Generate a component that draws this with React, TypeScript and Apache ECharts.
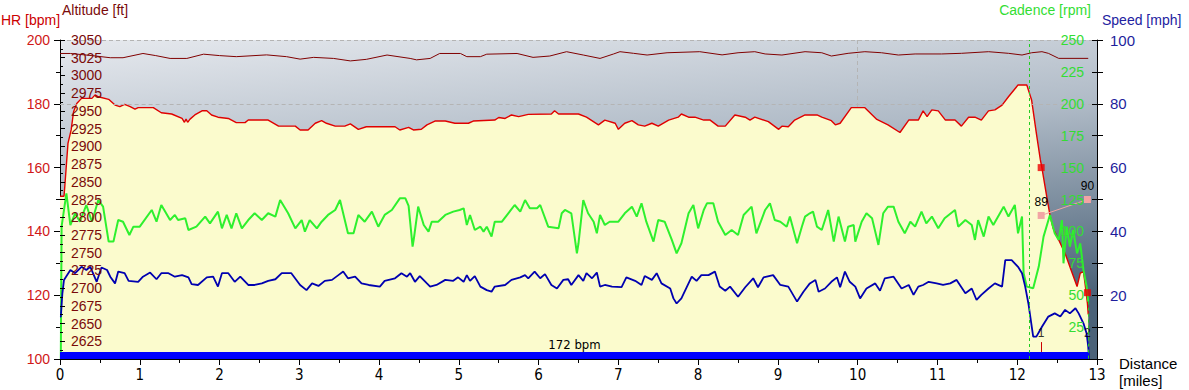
import React, { useEffect, useRef } from "react";
import * as echarts from "echarts";

// ---- Heart rate (bpm) vs distance (miles)
const hrDist = [0.0, 0.05, 0.06, 0.1, 0.14, 0.17, 0.21, 0.27, 0.4, 0.44, 0.48, 0.61, 0.69, 0.75, 0.81, 0.88, 0.94, 0.98, 1.17, 1.27, 1.4, 1.53, 1.56, 1.58, 1.6, 1.63, 1.69, 1.78, 1.84, 1.9, 1.98, 2.11, 2.21, 2.32, 2.36, 2.61, 2.74, 2.95, 3.01, 3.11, 3.2, 3.28, 3.34, 3.45, 3.57, 3.64, 3.74, 3.84, 4.2, 4.26, 4.37, 4.43, 4.53, 4.6, 4.7, 4.83, 4.95, 5.12, 5.18, 5.45, 5.5, 5.58, 5.66, 5.75, 5.87, 6.16, 6.2, 6.25, 6.5, 6.6, 6.75, 6.83, 6.96, 7.0, 7.08, 7.17, 7.25, 7.33, 7.42, 7.5, 7.63, 7.75, 7.79, 7.88, 7.96, 8.07, 8.15, 8.25, 8.34, 8.46, 8.59, 8.65, 8.71, 8.88, 9.01, 9.05, 9.13, 9.21, 9.34, 9.49, 9.55, 9.67, 9.72, 9.78, 9.92, 10.09, 10.24, 10.38, 10.53, 10.64, 10.76, 10.82, 10.87, 10.93, 11.01, 11.1, 11.22, 11.3, 11.39, 11.47, 11.55, 11.64, 11.72, 11.81, 11.89, 12.01, 12.12, 12.18, 12.24, 12.29, 12.31, 12.37, 12.41, 12.45, 12.52, 12.6, 12.66, 12.75, 12.79, 12.83, 12.85, 12.88, 12.89];
const hrVal = [151, 151, 154, 167.6, 171.8, 177.5, 180.1, 181.7, 181.7, 182.8, 182.2, 181.4, 179.6, 179.1, 179.8, 179.1, 178.3, 178.8, 178.8, 177.2, 176.8, 175.4, 174.2, 175.2, 174.2, 175.2, 176.5, 177.8, 177.8, 176.5, 175.8, 175.4, 174.1, 174.1, 174.9, 174.9, 173, 173, 171.8, 171.8, 173.9, 174.7, 173.9, 173, 173, 173.7, 172, 172.8, 172.8, 171.8, 172.6, 171.8, 172, 173.4, 174.6, 174.6, 173.9, 173.9, 174.6, 174.9, 175.7, 175.4, 176.5, 176, 176.7, 176.8, 177.8, 176.8, 176.8, 175.8, 173.4, 174.9, 173.9, 172, 173.9, 174.7, 173.4, 173, 173.9, 173, 174.9, 175.8, 176.8, 175.8, 175.8, 174.9, 174.9, 173, 173, 176.5, 175.8, 174.9, 175.8, 174.4, 172, 173, 172.8, 174.9, 176.5, 176.5, 175.8, 174.7, 173.4, 173.9, 178.8, 178.8, 175.1, 173.4, 171, 174.9, 174.9, 177.8, 176, 178.1, 177.8, 174.9, 174.9, 173, 175.8, 175.8, 174.9, 177.8, 178.1, 179.6, 182.2, 185.9, 185.9, 181.2, 170.7, 162.4, 159.8, 150.9, 145.1, 141, 137.3, 133.1, 128.9, 122.7, 126.9, 127.4, 123.7, 117.4, 114];

// ---- Altitude (ft)
const altDist = [0, 0.13, 0.4, 0.63, 0.79, 1.04, 1.2, 1.38, 1.59, 1.8, 2.0, 2.21, 2.59, 2.84, 3.01, 3.18, 3.43, 3.64, 3.84, 4.1, 4.39, 4.47, 4.64, 4.76, 5.02, 5.1, 5.27, 5.35, 5.73, 5.93, 6.14, 6.35, 6.56, 6.77, 6.94, 7.02, 7.19, 7.36, 7.61, 8.02, 8.3, 8.5, 8.71, 8.84, 9.05, 9.34, 9.55, 9.67, 9.88, 10.09, 10.3, 10.51, 10.72, 11.05, 11.3, 11.64, 11.89, 12.06, 12.18, 12.31, 12.39, 12.52, 12.89];
const altVal = [3031, 3031, 3028, 3025, 3025, 3031, 3028, 3024, 3024, 3030, 3028, 3026.5, 3029, 3026.5, 3023, 3025.5, 3024, 3020.5, 3022.7, 3028.8, 3024, 3022, 3024, 3031, 3031, 3026.5, 3026.5, 3030, 3031, 3025.5, 3027.4, 3033.5, 3028.8, 3024, 3030.3, 3033.5, 3031.2, 3028.8, 3032, 3033.5, 3029, 3032, 3033.5, 3030.3, 3028.8, 3033.5, 3032, 3027.4, 3031.2, 3033.5, 3032, 3028.8, 3030.3, 3030.3, 3031.2, 3033.5, 3031.2, 3028.8, 3032, 3033.5, 3031.2, 3024.1, 3024.1];

// ---- Cadence (rpm)
const cadDist = [0.0, 0.01, 0.02, 0.08, 0.13, 0.19, 0.25, 0.33, 0.4, 0.48, 0.54, 0.61, 0.67, 0.73, 0.79, 0.87, 0.92, 1.0, 1.15, 1.21, 1.27, 1.38, 1.44, 1.48, 1.57, 1.61, 1.71, 1.82, 1.88, 1.98, 2.03, 2.09, 2.15, 2.21, 2.28, 2.36, 2.44, 2.53, 2.61, 2.7, 2.76, 2.86, 2.95, 3.03, 3.07, 3.13, 3.22, 3.28, 3.36, 3.45, 3.51, 3.61, 3.68, 3.74, 3.82, 3.91, 3.99, 4.07, 4.16, 4.26, 4.33, 4.37, 4.42, 4.44, 4.49, 4.56, 4.62, 4.66, 4.74, 4.83, 4.93, 5.01, 5.06, 5.1, 5.14, 5.2, 5.27, 5.31, 5.35, 5.41, 5.45, 5.54, 5.62, 5.7, 5.77, 5.83, 5.89, 5.98, 6.02, 6.12, 6.25, 6.29, 6.33, 6.41, 6.48, 6.5, 6.56, 6.62, 6.69, 6.73, 6.77, 6.83, 6.89, 7.0, 7.08, 7.17, 7.23, 7.29, 7.35, 7.44, 7.5, 7.58, 7.67, 7.73, 7.79, 7.88, 7.94, 8.0, 8.07, 8.11, 8.15, 8.19, 8.25, 8.34, 8.42, 8.5, 8.57, 8.67, 8.73, 8.84, 8.9, 8.96, 9.03, 9.11, 9.15, 9.24, 9.3, 9.34, 9.4, 9.44, 9.49, 9.55, 9.63, 9.7, 9.76, 9.84, 9.88, 9.95, 9.97, 10.05, 10.11, 10.18, 10.26, 10.32, 10.38, 10.45, 10.51, 10.59, 10.66, 10.72, 10.8, 10.86, 10.93, 11.01, 11.09, 11.22, 11.26, 11.35, 11.43, 11.47, 11.51, 11.58, 11.64, 11.7, 11.83, 11.89, 11.97, 12.01, 12.06, 12.08, 12.12, 12.2, 12.27, 12.33, 12.41, 12.47, 12.52, 12.56, 12.58, 12.62, 12.66, 12.7, 12.75, 12.79, 12.83, 12.87, 12.89];
const cadVal = [0, 0, 103.7, 129.8, 105, 114.2, 107.6, 120.7, 107.6, 124.6, 119.4, 92, 92, 108.9, 107.6, 97.2, 103.7, 103.7, 116.8, 107.6, 120.7, 108.9, 112.9, 108.9, 110.3, 101.1, 103.7, 111.6, 106.3, 115.5, 102.4, 112.9, 102.4, 114.2, 102.4, 108.9, 114.2, 108.9, 114.2, 111.6, 124.6, 114.2, 102.4, 108.9, 99.8, 108.9, 102.4, 107.6, 112.9, 116.8, 124.6, 98.5, 98.5, 112.9, 107.6, 115.5, 103.7, 112.9, 116.8, 125.9, 125.9, 120, 88, 96, 119.4, 105, 99.8, 107.6, 107.6, 112.9, 115.5, 116.8, 118.1, 105, 112.9, 101.1, 103.7, 99.8, 103.7, 95.9, 107.6, 107.6, 114.2, 120.7, 115.5, 124.6, 118.1, 118.1, 120.7, 103.7, 102.4, 114.2, 116.8, 114.2, 82.8, 90.7, 124.6, 114.2, 107.6, 98.5, 112.9, 105, 107.6, 107.6, 114.2, 119.4, 111.6, 122, 107.6, 92, 108.9, 107.6, 93.3, 82.8, 90.7, 114.2, 120.7, 102.4, 116.8, 122, 122, 122, 107.6, 97.2, 101.1, 97.2, 112.9, 119.4, 98.5, 116.8, 122, 108.9, 107.6, 103.7, 111.6, 90.7, 103.7, 111.6, 114.2, 115.5, 103.7, 101.1, 116.8, 92, 111.6, 92, 103.7, 105, 92, 107.6, 114.2, 110.3, 89.4, 114.2, 119.4, 119.4, 107.6, 98.5, 107.6, 103.7, 115.5, 106.3, 111.6, 102.4, 110.3, 116.8, 103.7, 108.9, 105, 93.3, 108.9, 95.9, 111.6, 105, 119.4, 111.6, 120.7, 98.5, 111.6, 67.2, 56.7, 55.4, 72.4, 95.9, 112.9, 98.5, 93.3, 108.9, 75, 103.7, 88, 101.1, 82.8, 90.7, 69.8, 56.7, 45];

// ---- Speed (mph)
const spdDist = [0.0, 0.01, 0.03, 0.05, 0.13, 0.19, 0.27, 0.33, 0.38, 0.46, 0.52, 0.59, 0.63, 0.69, 0.73, 0.81, 0.86, 0.98, 1.04, 1.13, 1.21, 1.27, 1.36, 1.44, 1.53, 1.61, 1.65, 1.73, 1.84, 1.92, 1.98, 2.03, 2.11, 2.19, 2.26, 2.36, 2.44, 2.53, 2.61, 2.7, 2.78, 2.9, 3.01, 3.09, 3.16, 3.24, 3.32, 3.41, 3.49, 3.55, 3.61, 3.7, 3.78, 3.87, 4.01, 4.07, 4.2, 4.28, 4.35, 4.39, 4.45, 4.51, 4.6, 4.64, 4.72, 4.83, 4.93, 4.99, 5.06, 5.1, 5.14, 5.2, 5.27, 5.35, 5.41, 5.45, 5.58, 5.66, 5.77, 5.83, 5.87, 5.95, 6.02, 6.08, 6.16, 6.23, 6.31, 6.37, 6.41, 6.5, 6.56, 6.6, 6.67, 6.73, 6.77, 6.83, 6.92, 7.04, 7.1, 7.21, 7.29, 7.33, 7.42, 7.48, 7.54, 7.65, 7.69, 7.73, 7.79, 7.86, 7.92, 7.98, 8.04, 8.13, 8.21, 8.27, 8.34, 8.4, 8.5, 8.59, 8.69, 8.75, 8.82, 8.94, 9.03, 9.13, 9.24, 9.32, 9.4, 9.47, 9.51, 9.59, 9.67, 9.74, 9.78, 9.84, 9.9, 9.97, 10.03, 10.11, 10.22, 10.28, 10.34, 10.45, 10.55, 10.64, 10.7, 10.76, 10.82, 10.89, 10.99, 11.07, 11.16, 11.24, 11.35, 11.43, 11.49, 11.55, 11.64, 11.72, 11.81, 11.85, 11.93, 12.01, 12.06, 12.1, 12.14, 12.2, 12.24, 12.31, 12.39, 12.47, 12.54, 12.6, 12.66, 12.73, 12.77, 12.83, 12.87, 12.89, 12.9];
const spdVal = [13.3, 13.3, 20.6, 24.8, 27.9, 26.9, 28.9, 27.9, 28.9, 24.2, 28.7, 27.9, 25.8, 23.7, 27.4, 26.9, 24.5, 24.2, 25.8, 27.1, 25, 26.9, 26.9, 25.8, 26.3, 25.6, 23.5, 23.2, 25.6, 25.8, 22.7, 26.9, 26.9, 24.2, 25.8, 23.2, 23.2, 23.7, 24.5, 25, 26.9, 26.9, 23.2, 21.6, 23.7, 22.9, 24.5, 24.8, 26.3, 27.4, 25.3, 25.8, 23.7, 23.2, 22.7, 24.5, 25.3, 26.9, 25.8, 26.9, 24.2, 26, 23.7, 22.7, 23.2, 24.8, 24.5, 25.6, 24.2, 26.3, 24.5, 26, 22.7, 21.6, 21.1, 22.7, 23.2, 24.8, 25.6, 26.3, 25.3, 27.4, 25.3, 26.6, 23.2, 22.1, 24.8, 25, 23.2, 26.3, 24.5, 26.9, 25.3, 27.1, 22.7, 23.2, 22.7, 22.5, 25.6, 24.5, 23.2, 26, 24.8, 26.9, 23.7, 22.1, 19, 17.4, 19, 22.7, 25.8, 24.5, 26.3, 26.3, 27.4, 22.7, 21.4, 22.7, 19.5, 22.5, 25.3, 22.5, 25.6, 26.3, 23.2, 22.7, 18, 21.1, 23.7, 24.8, 21.1, 22.1, 24.2, 25.6, 22.5, 27.4, 24.2, 22.7, 19, 22.1, 23.7, 21.4, 25.3, 25.8, 22.1, 23.2, 20.1, 22.7, 23.2, 24.2, 23.7, 23.2, 23.7, 24.8, 20.6, 22.1, 18.5, 20.1, 22.1, 23.7, 22.7, 31, 31, 28.9, 26.9, 22.7, 17.4, 7, 7, 10.1, 13.3, 14.3, 13.3, 15.4, 14.3, 15.9, 14.3, 11.2, 8, 3.9, 0];

// ---- Annotations
const lapDist = [12.3, 12.88];
const lapNames = ["1", "2"];
const lapHr = [160, 120.8];
const markerDist = [12.3, 12.88];
const markerHr = [145, 150];
const markerLabels = ["89", "90"];
const avgHrLabel = "172 bpm";
const zoneEnd = 12.9;
const cadenceMarkDist = 12.15;

const xTicks = { min: 0, max: 13, interval: 1 };
// dashed grid lines (only visible above the HR fill)
const gridHr = [200, 180];
const gridDist = [10];

const pairs = (xs: number[], ys: number[]) => xs.map((x, i) => [x, ys[i]]);

// HR interpolated at a distance
const hrAt = (d: number) => {
  for (let i = 1; i < hrDist.length; i++) {
    if (d <= hrDist[i]) {
      const t = (d - hrDist[i - 1]) / (hrDist[i] - hrDist[i - 1]);
      return hrVal[i - 1] + t * (hrVal[i] - hrVal[i - 1]);
    }
  }
  return 100;
};
// distance ranges where the HR curve is below a level (grid line visible there)
const rangesAbove = (level: number) => {
  const out: number[][] = [];
  let s: number | null = hrVal[0] < level ? xTicks.min : null;
  for (let i = 1; i < hrVal.length; i++) {
    const a = hrVal[i - 1], b = hrVal[i];
    if ((a < level) !== (b < level)) {
      const x = hrDist[i - 1] + ((level - a) / (b - a)) * (hrDist[i] - hrDist[i - 1]);
      if (b < level) s = x;
      else if (s !== null) { out.push([s, x]); s = null; }
    }
  }
  if (s !== null) out.push([s, xTicks.max]);
  return out;
};

const FONT = "'Liberation Sans', Arial, sans-serif";
const NARROW = "'Liberation Sans Narrow', 'Arial Narrow', 'DejaVu Sans Condensed', sans-serif";

export default function App() {
  const ref = useRef<HTMLDivElement>(null);
  useEffect(() => {
    document.body.style.margin = "0";
    if (!ref.current) return;
    const chart = echarts.init(ref.current, undefined, { renderer: "svg" });
    const bg = new echarts.graphic.LinearGradient(0, 0, 0.3, 1, [
      { offset: 0, color: "#e6e9ee" },
      { offset: 0.45, color: "#b0bbc7" },
      { offset: 1, color: "#4b6278" },
    ]);
    const black = { color: "#000", width: 1 };
    const lastCad = cadDist.length - 1;
    const gridLines: any[] = [];
    gridHr.forEach((lv) => rangesAbove(lv).forEach(([a, b]) => gridLines.push([{ coord: [a, lv] }, { coord: [b, lv] }])));
    gridDist.forEach((d) => gridLines.push([{ coord: [d, 200] }, { coord: [d, hrAt(d)] }]));
    const option: any = {
      animation: false,
      textStyle: { fontFamily: FONT },
      grid: { left: 60, right: 92, top: 40, bottom: 31, show: true, borderWidth: 0, backgroundColor: bg },
      graphic: [
        { type: "text", left: 1, top: 13, style: { text: "HR [bpm]", fill: "#cc0000", fontSize: 14, fontFamily: FONT } },
        { type: "text", left: 62, top: 3, style: { text: "Altitude [ft]", fill: "#7a0a0a", fontSize: 14, fontFamily: FONT } },
        { type: "text", right: 98, top: 3, style: { text: "Cadence [rpm]", fill: "#33dd33", fontSize: 14, fontFamily: FONT } },
        { type: "text", left: 1102, top: 13, style: { text: "Speed [mph]", fill: "#2222a0", fontSize: 14, fontFamily: FONT } },
        { type: "text", left: 1119, top: 355, style: { text: "Distance\n[miles]", fill: "#000", fontSize: 15, lineHeight: 17, fontFamily: FONT } },
      ],
      xAxis: {
        type: "value",
        min: xTicks.min,
        max: xTicks.max,
        interval: xTicks.interval,
        axisLine: { show: true, onZero: false, lineStyle: black },
        axisTick: { show: true, length: 6, lineStyle: black },
        minorTick: { show: true, splitNumber: 2, length: 4, lineStyle: black },
        splitLine: { show: false },
        axisLabel: { color: "#000", fontSize: 15, margin: 8, fontFamily: NARROW },
      },
      yAxis: [
        {
          type: "value", position: "left", min: 100, max: 200, interval: 20,
          axisLine: { show: true, lineStyle: black },
          axisTick: { show: true, length: 6, lineStyle: black },
          minorTick: { show: true, splitNumber: 2, length: 4, lineStyle: black },
          splitLine: { show: false },
          axisLabel: { color: "#d01818", fontSize: 14, margin: 10 },
        },
        {
          type: "value", position: "left", min: 2600, max: 3050, interval: 25, z: 10,
          axisLine: { show: false },
          axisTick: { show: true, inside: true, length: 5, lineStyle: black },
          minorTick: { show: true, splitNumber: 2, length: 3, lineStyle: black },
          splitLine: { show: false },
          axisLabel: { inside: true, color: "#7a0a0a", fontSize: 14, margin: 11, formatter: (v: number) => (v === 2600 ? "" : String(v)) },
        },
        {
          type: "value", position: "right", min: 0, max: 250, interval: 25, z: 10,
          axisLine: { show: false },
          axisTick: { show: true, inside: true, length: 5, lineStyle: black },
          splitLine: { show: false },
          axisLabel: { inside: true, color: "#33dd33", fontSize: 14, margin: 13, formatter: (v: number) => (v === 0 ? "" : String(v)) },
        },
        {
          type: "value", position: "right", min: 0, max: 100, interval: 20,
          axisLine: { show: true, lineStyle: black },
          axisTick: { show: true, length: 6, lineStyle: black },
          minorTick: { show: true, splitNumber: 2, length: 6, lineStyle: black },
          splitLine: { show: false },
          axisLabel: { color: "#1e1e9c", fontSize: 15, margin: 13, formatter: (v: number) => (v === 0 ? "" : String(v)) },
        },
      ],
      series: [
        {
          name: "HR", type: "line", yAxisIndex: 0, data: pairs(hrDist, hrVal), z: 2,
          showSymbol: false, symbol: "none",
          lineStyle: { color: "#e00000", width: 1.4 },
          areaStyle: { color: "#fbfbcd", opacity: 1, origin: "start" },
          markLine: {
            silent: true, symbol: ["none", "none"], label: { show: false },
            lineStyle: { color: "#b4b4b4", type: [4, 3], width: 1 },
            data: gridLines,
          },
        },
        {
          name: "Altitude", type: "line", yAxisIndex: 1, data: pairs(altDist, altVal), z: 3,
          showSymbol: false, symbol: "none",
          lineStyle: { color: "#800000", width: 1 },
        },
        {
          name: "Cadence", type: "line", yAxisIndex: 2, data: pairs(cadDist, cadVal), z: 4,
          showSymbol: false, symbol: "none",
          lineStyle: { color: "#2ef02e", width: 2 },
          markLine: {
            z: 9,
            silent: true, symbol: ["none", "none"], label: { show: false },
            lineStyle: { color: "#22cc22", type: [3, 3], width: 1 },
            data: [
              { xAxis: cadenceMarkDist },
              [{ coord: [cadDist[lastCad], cadVal[lastCad]] }, { coord: [cadDist[lastCad], 0] }],
            ],
          },
        },
        {
          name: "Speed", type: "line", yAxisIndex: 3, data: pairs(spdDist, spdVal), z: 5,
          showSymbol: false, symbol: "none",
          lineStyle: { color: "#0000b0", width: 1.8 },
        },
        {
          name: "zone", type: "line", yAxisIndex: 0, data: [], z: 6, silent: true,
          markArea: {
            z: 6,
            silent: true,
            itemStyle: { color: "#0000ff", opacity: 1 },
            label: { show: true, position: "top", distance: 1, color: "#000", fontSize: 13, fontFamily: NARROW },
            data: [[{ name: avgHrLabel, xAxis: 0, yAxis: 100 }, { xAxis: zoneEnd, yAxis: 102.2 }]],
          },
          markLine: {
            z: 7,
            silent: true, symbol: ["none", "none"], label: { show: false },
            lineStyle: { color: "#cc0000", type: "solid", width: 1 },
            data: [[{ coord: [lapDist[0], 102.2] }, { coord: [lapDist[0], 105.3] }]],
          },
        },
        {
          name: "markers", type: "line", yAxisIndex: 0, data: pairs(markerDist, markerHr), z: 7,
          symbol: "rect", symbolSize: 7, showSymbol: true,
          itemStyle: { color: "#f2a4a4" },
          lineStyle: { color: "#f2a4a4", width: 1 },
          label: { show: true, position: "top", distance: 4, color: "#000", fontSize: 12, formatter: (p: any) => markerLabels[p.dataIndex] },
        },
        {
          name: "laps", type: "scatter", yAxisIndex: 0, data: pairs(lapDist, lapHr), z: 8,
          symbol: "rect", symbolSize: 7,
          itemStyle: { color: "#ee0000" },
        },
        {
          name: "lapLabels", type: "scatter", yAxisIndex: 0, data: lapDist.map((d) => [d, 108.3]), z: 8,
          symbolSize: 1, itemStyle: { color: "rgba(0,0,0,0)" },
          label: { show: true, position: "inside", color: "#000", fontSize: 12, formatter: (p: any) => lapNames[p.dataIndex] },
        },
      ],
    };
    chart.setOption(option);
    return () => chart.dispose();
  }, []);
  return <div ref={ref} style={{ width: 1189, height: 390 }} />;
}
